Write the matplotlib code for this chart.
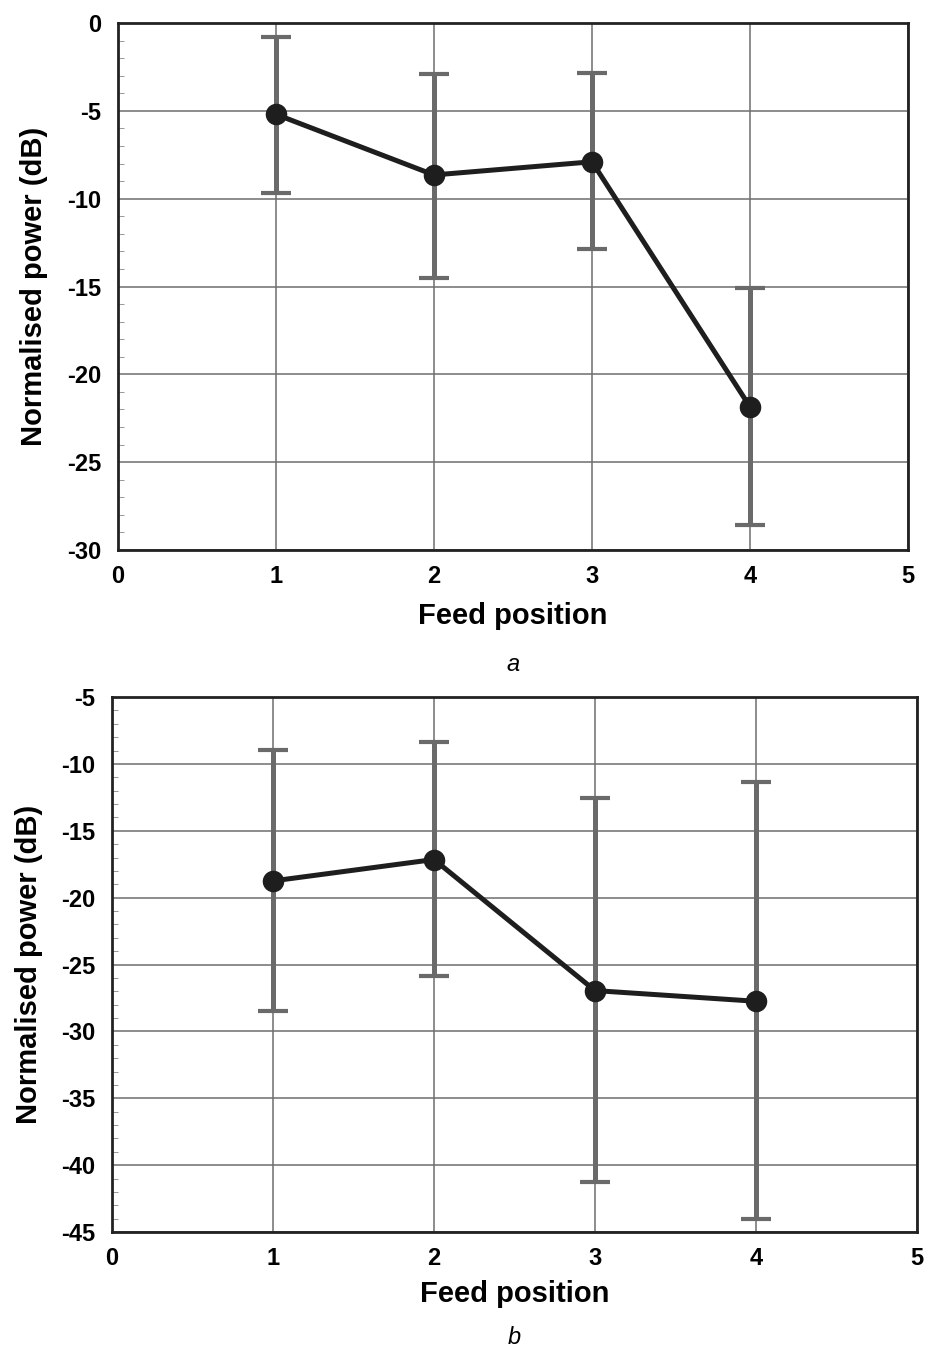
import numpy as np
import matplotlib
matplotlib.use("Agg")
import matplotlib.pyplot as plt
from matplotlib.ticker import MultipleLocator

plt.rcParams['font.family'] = ['Liberation Sans', 'DejaVu Sans']
plt.rcParams['axes.unicode_minus'] = False

feed = [1, 2, 3, 4]

# panel a
power_a = [-5.2, -8.65, -7.9, -21.85]
upper_a = [-0.8, -2.9, -2.85, -15.1]
lower_a = [-9.7, -14.5, -12.85, -28.6]

# panel b
power_b = [-18.75, -17.15, -26.95, -27.75]
upper_b = [-8.95, -8.4, -12.55, -11.35]
lower_b = [-28.45, -25.85, -41.25, -44.0]


def draw_panel(ax, y, up, lo, ylim, label, ylab_x, xlab_y, sub_y):
    y = np.array(y)
    err = [y - np.array(lo), np.array(up) - y]
    ax.errorbar(feed, y, yerr=err, fmt='none', ecolor='#6a6a6a',
                elinewidth=3.6, capsize=11, capthick=3, zorder=3)
    ax.plot(feed, y, color='#1e1e1e', linewidth=3.6, marker='o',
            markersize=14.5, zorder=4)
    ax.set_xlim(0, 5)
    ax.set_ylim(*ylim)
    ax.xaxis.set_major_locator(MultipleLocator(1))
    ax.yaxis.set_major_locator(MultipleLocator(5))
    ax.yaxis.set_minor_locator(MultipleLocator(1))
    ax.grid(True, which='major', color='#6e6e6e', linewidth=1.1)
    ax.tick_params(axis='both', which='major', length=0, labelsize=17)
    ax.tick_params(axis='x', which='major', pad=11)
    ax.tick_params(axis='y', which='major', pad=12)
    ax.tick_params(axis='y', which='minor', direction='in', length=4,
                   color='#888888', left=True)
    for lbl in ax.get_xticklabels() + ax.get_yticklabels():
        lbl.set_fontweight('bold')
    for sp in ax.spines.values():
        sp.set_linewidth(2)
        sp.set_color('#222222')
    ax.set_xlabel('Feed position', fontsize=21, fontweight='bold')
    ax.xaxis.set_label_coords(0.5, xlab_y)
    ax.set_ylabel('Normalised power (dB)', fontsize=21, fontweight='bold')
    ax.yaxis.set_label_coords(ylab_x, 0.5)
    ax.text(0.5, sub_y, label, transform=ax.transAxes, ha='center',
            va='center', fontsize=17, style='italic')


W, H = 926, 1351
fig = plt.figure(figsize=(W / 100, H / 100), dpi=100)
ax_a = fig.add_axes([118 / W, 1 - 550 / H, (908 - 118) / W, (550 - 23) / H])
ax_b = fig.add_axes([112 / W, 1 - 1232 / H, (917 - 112) / W, (1232 - 697) / H])

draw_panel(ax_a, power_a, upper_a, lower_a, (-30, 0), 'a',
           -0.089, -0.098, -0.218)
draw_panel(ax_b, power_b, upper_b, lower_b, (-45, -5), 'b',
           -0.086, -0.09, -0.198)

fig.savefig('out.png', dpi=100)
